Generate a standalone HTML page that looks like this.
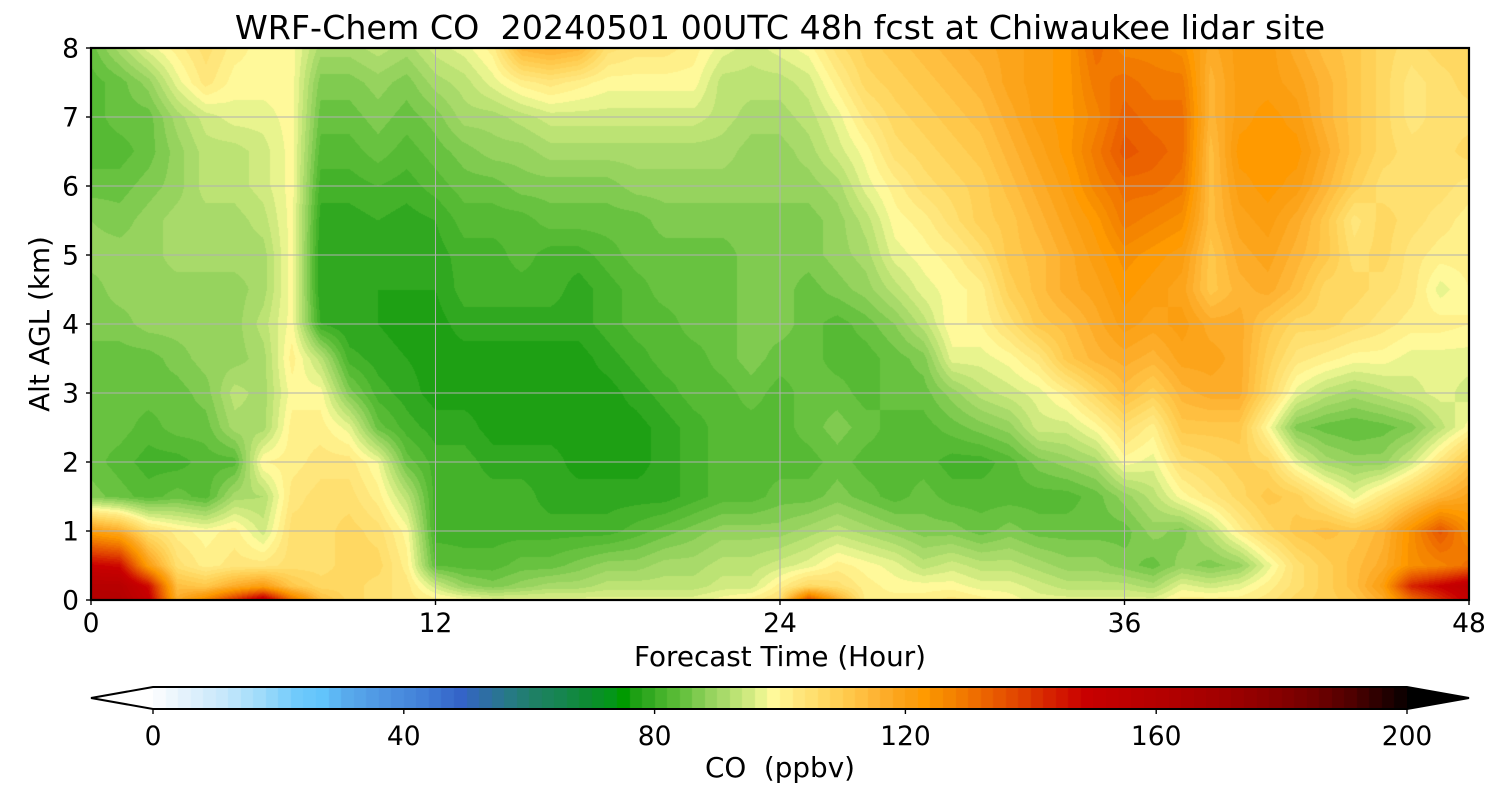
<!DOCTYPE html>
<html>
<head>
<meta charset="utf-8">
<style>
  html,body{margin:0;padding:0;background:#fff;}
  body{width:1500px;height:800px;overflow:hidden;position:relative;font-family:"DejaVu Sans","Liberation Sans",sans-serif;}
  #plot{position:absolute;left:91px;top:48px;width:1378px;height:552px;}
  #cbar{position:absolute;left:153px;top:687px;width:1254px;height:22px;}
  svg{position:absolute;left:0;top:0;}
</style>
</head>
<body>
<canvas id="plot" width="1378" height="552"></canvas>
<canvas id="cbar" width="1254" height="22"></canvas>
<svg width="1500" height="800" viewBox="0 0 1500 800" xmlns="http://www.w3.org/2000/svg" font-family="DejaVu Sans, Liberation Sans, sans-serif">
  <g stroke="#b0b0b0" stroke-width="1">
    <line x1="91" y1="531" x2="1469" y2="531"/>
    <line x1="91" y1="462" x2="1469" y2="462"/>
    <line x1="91" y1="393" x2="1469" y2="393"/>
    <line x1="91" y1="324" x2="1469" y2="324"/>
    <line x1="91" y1="255" x2="1469" y2="255"/>
    <line x1="91" y1="186" x2="1469" y2="186"/>
    <line x1="91" y1="117" x2="1469" y2="117"/>
    <line x1="435.5" y1="48" x2="435.5" y2="600"/>
    <line x1="780" y1="48" x2="780" y2="600"/>
    <line x1="1124.5" y1="48" x2="1124.5" y2="600"/>
  </g>
  <rect x="91" y="48" width="1378" height="552" fill="none" stroke="#000" stroke-width="2.2"/>
  <g stroke="#000" stroke-width="1.4">
    <line x1="91" y1="600" x2="91" y2="605"/>
    <line x1="435.5" y1="600" x2="435.5" y2="605"/>
    <line x1="780" y1="600" x2="780" y2="605"/>
    <line x1="1124.5" y1="600" x2="1124.5" y2="605"/>
    <line x1="1469" y1="600" x2="1469" y2="605"/>
    <line x1="86" y1="600" x2="91" y2="600"/>
    <line x1="86" y1="531" x2="91" y2="531"/>
    <line x1="86" y1="462" x2="91" y2="462"/>
    <line x1="86" y1="393" x2="91" y2="393"/>
    <line x1="86" y1="324" x2="91" y2="324"/>
    <line x1="86" y1="255" x2="91" y2="255"/>
    <line x1="86" y1="186" x2="91" y2="186"/>
    <line x1="86" y1="117" x2="91" y2="117"/>
    <line x1="86" y1="48" x2="91" y2="48"/>
  </g>
  <text x="780" y="39" font-size="33.3" text-anchor="middle" fill="#000" xml:space="preserve">WRF-Chem CO  20240501 00UTC 48h fcst at Chiwaukee lidar site</text>
  <g font-size="26.5" text-anchor="middle" fill="#000">
    <text x="91" y="632">0</text>
    <text x="435.5" y="632">12</text>
    <text x="780" y="632">24</text>
    <text x="1124.5" y="632">36</text>
    <text x="1469" y="632">48</text>
  </g>
  <g font-size="26.5" text-anchor="end" fill="#000">
    <text x="79" y="609.5">0</text>
    <text x="79" y="540.5">1</text>
    <text x="79" y="471.5">2</text>
    <text x="79" y="402.5">3</text>
    <text x="79" y="333.5">4</text>
    <text x="79" y="264.5">5</text>
    <text x="79" y="195.5">6</text>
    <text x="79" y="126.5">7</text>
    <text x="79" y="57.5">8</text>
  </g>
  <text x="780" y="666" font-size="27.8" text-anchor="middle" fill="#000">Forecast Time (Hour)</text>
  <text transform="translate(49,324) rotate(-90)" font-size="27.8" text-anchor="middle" fill="#000">Alt AGL (km)</text>
  <polygon points="91,698 153,687 153,709" fill="#ffffff"/>
  <polygon points="1469,698 1407,687 1407,709" fill="#000000"/>
  <polygon points="91,698 153,687 1407,687 1469,698 1407,709 153,709" fill="none" stroke="#000" stroke-width="2"/>
  <g stroke="#000" stroke-width="1.4">
    <line x1="153" y1="709" x2="153" y2="714"/>
    <line x1="403.8" y1="709" x2="403.8" y2="714"/>
    <line x1="654.6" y1="709" x2="654.6" y2="714"/>
    <line x1="905.4" y1="709" x2="905.4" y2="714"/>
    <line x1="1156.2" y1="709" x2="1156.2" y2="714"/>
    <line x1="1407" y1="709" x2="1407" y2="714"/>
  </g>
  <g font-size="26.5" text-anchor="middle" fill="#000">
    <text x="153" y="745">0</text>
    <text x="403.8" y="745">40</text>
    <text x="654.6" y="745">80</text>
    <text x="905.4" y="745">120</text>
    <text x="1156.2" y="745">160</text>
    <text x="1407" y="745">200</text>
  </g>
  <text x="780" y="777" font-size="27.8" text-anchor="middle" fill="#000" xml:space="preserve">CO  (ppbv)</text>
</svg>
<script>
(function(){
var A=[[0,'f8fbfe'],[4,'e4f2fc'],[10,'c8e8fb'],[16,'a0dcfa'],[22,'70cafb'],[26,'62c4fb'],[30,'58aaec'],[36,'4e94e2'],[42,'4280d8'],[48,'3464c8'],[52,'2e6ea4'],[56,'267a84'],[60,'1e8064'],[64,'168550'],[68,'0e8a34'],[72,'04961a'],[74,'009a00'],[76,'1ea014'],[78,'30a820'],[80,'44b22a'],[82,'56ba34'],[84,'68c240'],[86,'80cb50'],[88,'96d35e'],[90,'a8da6a'],[92,'bce374'],[94,'d0ea80'],[96,'e8f48e'],[98,'fff99a'],[100,'fff08a'],[102,'ffe67c'],[104,'ffe070'],[106,'ffd862'],[108,'ffd056'],[110,'ffc84a'],[112,'ffbf40'],[114,'feb535'],[116,'fdac28'],[118,'fca41a'],[120,'fb9e10'],[122,'ff9a00'],[124,'f88f00'],[126,'f58500'],[128,'f27a00'],[130,'ef6e00'],[132,'eb6200'],[134,'e75600'],[136,'e34a00'],[138,'df3e00'],[140,'da3000'],[142,'d62200'],[144,'d21600'],[146,'cd0a00'],[148,'c80000'],[150,'c40000'],[160,'b40000'],[170,'a00000'],[178,'880000'],[184,'720000'],[190,'500000'],[196,'200000'],[200,'000000']];
function hx(s){return [parseInt(s.substr(0,2),16),parseInt(s.substr(2,2),16),parseInt(s.substr(4,2),16)];}
function cm(v){
  for(var i=0;i<A.length-1;i++){
    if(v>=A[i][0]&&v<=A[i+1][0]){
      var a=hx(A[i][1]),b=hx(A[i+1][1]),f=(v-A[i][0])/(A[i+1][0]-A[i][0]);
      return [Math.round(a[0]+(b[0]-a[0])*f),Math.round(a[1]+(b[1]-a[1])*f),Math.round(a[2]+(b[2]-a[2])*f)];
    }
  }
  return [0,0,0];
}
var bins=[];for(var k=0;k<100;k++)bins.push(cm(2*k));
var Z=[0,0.2,0.5,1,1.5,2,2.5,3,3.5,4,4.5,5,5.5,6,6.5,7,7.5,8];
var D=[
[162,158,148,120,86,84,84,84,84,86,86,88,87,84,82,82,82,84],
[160,158,146,116,84,82,84,84,84,86,88,88,86,84,82,84,84,90],
[150,146,120,104,82,80,82,84,84,88,88,88,88,86,84,84,88,96],
[116,112,104,100,84,80,84,84,86,88,88,90,90,88,88,90,96,100],
[126,110,100,98,82,82,84,86,88,88,88,90,90,92,92,94,102,104],
[140,116,102,100,90,82,90,92,88,88,88,90,90,92,92,96,98,100],
[154,120,102,94,91,99,90,90,90,92,90,90,92,94,94,96,98,98],
[130,110,104,104,102,100,100,98,100,98,98,98,98,98,98,98,98,98],
[112,106,104,104,104,102,100,98,92,79,77,77,78,80,82,84,86,90],
[106,106,106,106,104,102,96,86,80,77,77,77,78,80,82,84,86,90],
[104,104,106,104,100,97,84,80,78,77,77,78,79,81,84,86,88,92],
[102,102,100,98,92,84,80,78,77,76,77,77,78,80,82,84,86,90],
[100,94,83,80,80,80,78,76,76,76,77,78,79,82,84,86,90,94],
[98,88,82,80,80,80,78,76,76,78,80,80,82,84,86,90,92,96],
[96,86,82,80,80,78,76,76,76,78,80,80,82,84,88,90,96,100],
[96,88,84,80,80,78,76,76,76,78,80,82,82,86,88,92,100,114],
[96,90,84,80,78,78,76,76,76,78,80,80,84,86,90,94,102,116],
[96,90,86,80,78,76,76,76,76,78,78,80,84,86,90,94,100,114],
[96,92,88,80,78,76,76,76,78,80,80,82,84,86,90,94,98,104],
[96,92,88,82,78,76,76,78,80,82,82,84,84,88,90,94,98,102],
[96,92,90,84,78,78,78,80,82,82,84,84,86,88,90,94,98,102],
[96,92,90,86,80,80,80,82,82,84,84,84,86,88,90,94,98,100],
[98,94,92,88,82,82,82,82,84,84,84,84,86,88,90,92,92,96],
[100,94,92,88,82,82,82,84,86,86,86,86,86,88,88,90,92,94],
[104,100,94,88,84,82,82,82,84,86,86,86,86,88,88,90,92,96],
[136,106,96,90,84,82,84,84,84,84,84,86,86,88,90,92,94,98],
[116,104,100,92,86,84,86,84,82,82,86,88,88,90,94,96,100,104],
[100,100,98,90,84,82,84,82,82,84,88,90,92,96,98,102,106,108],
[100,98,96,88,82,82,82,84,84,87,92,96,98,100,104,106,108,110],
[100,98,92,86,84,82,82,84,86,92,96,98,100,104,106,108,110,112],
[102,98,94,86,82,80,84,88,96,99,98,100,104,106,108,110,112,114],
[100,96,92,84,82,80,86,92,96,99,100,104,108,108,110,112,114,116],
[98,96,92,86,82,82,88,94,98,104,108,110,110,112,114,116,118,118],
[96,94,90,84,82,86,94,96,102,110,112,112,114,116,118,120,120,120],
[96,92,88,84,82,88,94,100,110,112,116,116,118,120,122,122,122,122],
[96,92,88,84,84,90,98,106,114,116,118,120,122,126,128,126,128,130],
[96,92,86,84,88,98,104,112,116,120,122,124,128,130,134,132,130,126],
[96,90,84,88,92,96,100,108,114,118,120,122,126,130,132,130,128,126],
[100,96,88,86,98,104,110,114,118,120,118,120,124,128,130,130,128,124],
[100,94,86,92,102,106,110,116,118,116,110,110,112,112,112,114,114,116],
[100,96,88,100,106,108,110,116,116,116,114,116,118,120,122,120,120,120],
[102,100,96,106,110,106,98,106,108,110,116,118,120,122,122,122,120,120],
[106,104,104,110,108,96,86,96,102,106,112,114,116,120,122,120,118,116],
[108,108,108,112,102,90,84,92,100,106,106,110,110,114,116,114,114,112],
[110,112,112,110,96,88,83,90,98,104,106,104,102,108,110,110,110,110],
[116,120,116,114,102,88,84,92,98,102,104,106,106,104,106,106,106,106],
[130,142,124,124,108,94,86,94,96,100,102,102,104,104,104,102,102,104],
[140,148,126,134,114,102,92,96,96,100,96,100,102,104,104,104,104,106],
[150,154,130,124,118,110,98,94,96,99,99,100,100,102,106,104,106,106]
];
function col(v){
  var b=Math.floor(v/2);
  if(v<0)return [255,255,255];
  if(b>99)return [0,0,0];
  return bins[b];
}
var c=document.getElementById('plot'),ctx=c.getContext('2d');
var W=1378,Hh=552,img=ctx.createImageData(W,Hh),d=img.data;
var rowJ=[],rowF=[];
for(var py=0;py<Hh;py++){
  var z=8*(1-(py+0.5)/Hh),j=0;
  while(j<Z.length-2&&z>Z[j+1])j++;
  rowJ.push(j);rowF.push((z-Z[j])/(Z[j+1]-Z[j]));
}
for(var px=0;px<W;px++){
  var t=(px+0.5)/W*48,i=Math.floor(t);if(i>47)i=47;var ft=t-i;
  var c0=D[i],c1=D[i+1];
  for(var qy=0;qy<Hh;qy++){
    var jj=rowJ[qy],fz=rowF[qy];
    var v0=c0[jj]+(c0[jj+1]-c0[jj])*fz,v1=c1[jj]+(c1[jj+1]-c1[jj])*fz;
    var v=v0+(v1-v0)*ft+1;
    var cc=col(v),o=(qy*W+px)*4;
    d[o]=cc[0];d[o+1]=cc[1];d[o+2]=cc[2];d[o+3]=255;
  }
}
ctx.putImageData(img,0,0);
var cb=document.getElementById('cbar'),cx=cb.getContext('2d');
var cw=1254/100;
for(var k2=0;k2<100;k2++){
  var c2=bins[k2];
  cx.fillStyle='rgb('+c2[0]+','+c2[1]+','+c2[2]+')';
  var x0=Math.round(k2*cw),x1=Math.round((k2+1)*cw);
  cx.fillRect(x0,0,x1-x0,22);
}
})();
</script>
</body>
</html>
